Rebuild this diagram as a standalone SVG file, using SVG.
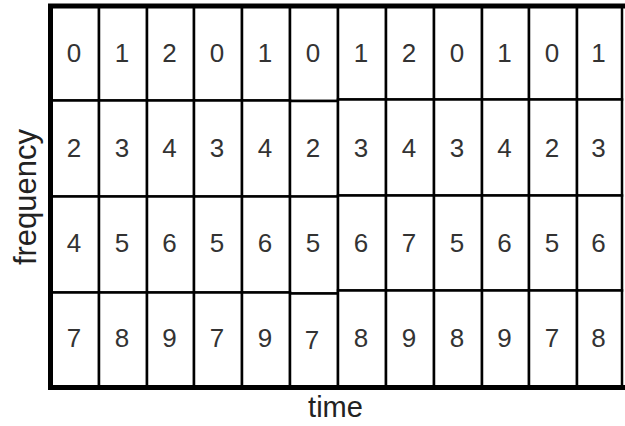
<svg xmlns="http://www.w3.org/2000/svg" width="625" height="426" viewBox="0 0 625 426">
<style>
.cell rect{fill:#fff;stroke:#000;stroke-width:2.5}
.cell text{font-family:"Liberation Sans",Arial,sans-serif;font-size:26px;fill:#333;text-anchor:middle}
.axis{stroke:#000;stroke-width:5;fill:none}
.lbl{font-family:"Liberation Sans",Arial,sans-serif;fill:#222;text-anchor:middle}
</style>
<rect width="625" height="426" fill="#fff"/>
<g id="cells">
<g id="c0-0" class="cell"><rect x="51" y="6" width="48" height="94.5"/><text x="74" y="62">0</text></g>
<g id="c0-1" class="cell"><rect x="99" y="6" width="48" height="94.5"/><text x="122" y="62">1</text></g>
<g id="c0-2" class="cell"><rect x="147" y="6" width="47" height="94.5"/><text x="169.5" y="62">2</text></g>
<g id="c0-3" class="cell"><rect x="194" y="6" width="48" height="94.5"/><text x="217" y="62">0</text></g>
<g id="c0-4" class="cell"><rect x="242" y="6" width="48" height="94.5"/><text x="265" y="62">1</text></g>
<g id="c0-5" class="cell"><rect x="290" y="6" width="48" height="95"/><text x="313" y="62">0</text></g>
<g id="c0-6" class="cell"><rect x="338" y="6" width="48" height="93.5"/><text x="361" y="62">1</text></g>
<g id="c0-7" class="cell"><rect x="386" y="6" width="48" height="93.5"/><text x="409" y="62">2</text></g>
<g id="c0-8" class="cell"><rect x="434" y="6" width="48" height="93.5"/><text x="457" y="62">0</text></g>
<g id="c0-9" class="cell"><rect x="482" y="6" width="47" height="93.5"/><text x="504.5" y="62">1</text></g>
<g id="c0-10" class="cell"><rect x="529" y="6" width="48" height="93.5"/><text x="552" y="62">0</text></g>
<g id="c0-11" class="cell"><rect x="577" y="6" width="45" height="93.5"/><text x="598.5" y="62">1</text></g>

<g id="c1-0" class="cell"><rect x="51" y="100.5" width="48" height="96"/><text x="74" y="157">2</text></g>
<g id="c1-1" class="cell"><rect x="99" y="100.5" width="48" height="96"/><text x="122" y="157">3</text></g>
<g id="c1-2" class="cell"><rect x="147" y="100.5" width="47" height="96"/><text x="169.5" y="157">4</text></g>
<g id="c1-3" class="cell"><rect x="194" y="100.5" width="48" height="96"/><text x="217" y="157">3</text></g>
<g id="c1-4" class="cell"><rect x="242" y="100.5" width="48" height="96"/><text x="265" y="157">4</text></g>
<g id="c1-5" class="cell"><rect x="290" y="101" width="48" height="95.7"/><text x="313" y="157">2</text></g>
<g id="c1-6" class="cell"><rect x="338" y="99.5" width="48" height="96"/><text x="361" y="157">3</text></g>
<g id="c1-7" class="cell"><rect x="386" y="99.5" width="48" height="96"/><text x="409" y="157">4</text></g>
<g id="c1-8" class="cell"><rect x="434" y="99.5" width="48" height="96"/><text x="457" y="157">3</text></g>
<g id="c1-9" class="cell"><rect x="482" y="99.5" width="47" height="96"/><text x="504.5" y="157">4</text></g>
<g id="c1-10" class="cell"><rect x="529" y="99.5" width="48" height="96"/><text x="552" y="157">2</text></g>
<g id="c1-11" class="cell"><rect x="577" y="99.5" width="45" height="96"/><text x="598.5" y="157">3</text></g>

<g id="c2-0" class="cell"><rect x="51" y="196.5" width="48" height="96"/><text x="74" y="252">4</text></g>
<g id="c2-1" class="cell"><rect x="99" y="196.5" width="48" height="96"/><text x="122" y="252">5</text></g>
<g id="c2-2" class="cell"><rect x="147" y="196.5" width="47" height="96"/><text x="169.5" y="252">6</text></g>
<g id="c2-3" class="cell"><rect x="194" y="196.5" width="48" height="96"/><text x="217" y="252">5</text></g>
<g id="c2-4" class="cell"><rect x="242" y="196.5" width="48" height="96"/><text x="265" y="252">6</text></g>
<g id="c2-5" class="cell"><rect x="290" y="196.5" width="48" height="97"/><text x="313" y="252">5</text></g>
<g id="c2-6" class="cell"><rect x="338" y="195.5" width="48" height="95"/><text x="361" y="252">6</text></g>
<g id="c2-7" class="cell"><rect x="386" y="195.5" width="48" height="95"/><text x="409" y="252">7</text></g>
<g id="c2-8" class="cell"><rect x="434" y="195.5" width="48" height="95"/><text x="457" y="252">5</text></g>
<g id="c2-9" class="cell"><rect x="482" y="195.5" width="47" height="95"/><text x="504.5" y="252">6</text></g>
<g id="c2-10" class="cell"><rect x="529" y="195.5" width="48" height="95"/><text x="552" y="252">5</text></g>
<g id="c2-11" class="cell"><rect x="577" y="195.5" width="45" height="95"/><text x="598.5" y="252">6</text></g>

<g id="c3-0" class="cell"><rect x="51" y="292.5" width="48" height="95"/><text x="74" y="347">7</text></g>
<g id="c3-1" class="cell"><rect x="99" y="292.5" width="48" height="95"/><text x="122" y="347">8</text></g>
<g id="c3-2" class="cell"><rect x="147" y="292.5" width="47" height="95"/><text x="169.5" y="347">9</text></g>
<g id="c3-3" class="cell"><rect x="194" y="292.5" width="48" height="95"/><text x="217" y="347">7</text></g>
<g id="c3-4" class="cell"><rect x="242" y="292.5" width="48" height="95"/><text x="265" y="347">9</text></g>
<g id="c3-5" class="cell"><rect x="290" y="293.5" width="48" height="94"/><text x="312" y="349">7</text></g>
<g id="c3-6" class="cell"><rect x="338" y="290.5" width="48" height="97"/><text x="361" y="347">8</text></g>
<g id="c3-7" class="cell"><rect x="386" y="290.5" width="48" height="97"/><text x="409" y="347">9</text></g>
<g id="c3-8" class="cell"><rect x="434" y="290.5" width="48" height="97"/><text x="457" y="347">8</text></g>
<g id="c3-9" class="cell"><rect x="482" y="290.5" width="47" height="97"/><text x="504.5" y="347">9</text></g>
<g id="c3-10" class="cell"><rect x="529" y="290.5" width="48" height="97"/><text x="552" y="347">7</text></g>
<g id="c3-11" class="cell"><rect x="577" y="290.5" width="45" height="97"/><text x="598.5" y="347">8</text></g>
</g>
<g id="connectors"/>
<g id="axes">
<path class="axis" d="M625 6 H50.5 V387.5 H625"/>
</g>
<g id="labels">
<text class="lbl" font-size="31" transform="translate(35.5 197) rotate(-90)">frequency</text>
<text class="lbl" font-size="29" x="335.5" y="417">time</text>
</g>
</svg>
